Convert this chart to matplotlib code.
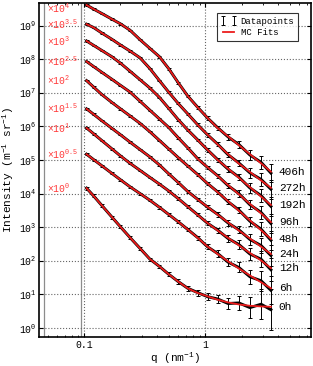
import numpy as np
import matplotlib
matplotlib.use("Agg")
import matplotlib.pyplot as plt

plt.rcParams['font.family'] = 'Liberation Mono'
plt.rcParams['mathtext.fontset'] = 'custom'
plt.rcParams['mathtext.rm'] = 'Liberation Mono'
plt.rcParams['mathtext.it'] = 'Liberation Mono:italic'
plt.rcParams['mathtext.bf'] = 'Liberation Mono:bold'

# scattering vector (nm^-1)
q = [0.105, 0.12, 0.14, 0.17, 0.2, 0.24, 0.29, 0.35, 0.42, 0.5,
     0.6, 0.72, 0.87, 1.05, 1.27, 1.55, 1.9, 2.35, 2.9, 3.5]

times = ['0h', '6h', '12h', '24h', '48h', '96h', '192h', '272h', '406h']
offsets = [0, 0.5, 1, 1.5, 2, 2.5, 3, 3.5, 4]
offset_labels = ['0', '0.5', '1', '1.5', '2', '2.5', '3', '3.5', '4']

# log10 of the MC fit intensity (unscaled, m^-1 sr^-1)
fit_0h = [4.16, 3.93, 3.65, 3.30, 3.01, 2.69, 2.37, 2.05, 1.83, 1.60,
          1.38, 1.18, 1.04, 0.94, 0.84, 0.76, 0.70, 0.66, 0.64, 0.63]
fit_6h = [4.67, 4.51, 4.33, 4.10, 3.91, 3.70, 3.50, 3.30, 3.09, 2.88,
          2.66, 2.43, 2.18, 1.92, 1.70, 1.48, 1.27, 1.06, 0.86, 0.68]
fit_12h = [4.95, 4.78, 4.58, 4.33, 4.12, 3.90, 3.69, 3.48, 3.28, 3.08,
           2.85, 2.61, 2.36, 2.12, 1.90, 1.68, 1.46, 1.23, 1.01, 0.78]
fit_24h = [5.02, 4.86, 4.67, 4.44, 4.25, 4.03, 3.81, 3.59, 3.35, 3.09,
           2.83, 2.56, 2.32, 2.10, 1.87, 1.64, 1.40, 1.16, 0.92, 0.70]
fit_48h = [5.36, 5.17, 4.95, 4.71, 4.52, 4.31, 4.09, 3.84, 3.58, 3.33,
           3.07, 2.82, 2.56, 2.30, 2.04, 1.77, 1.49, 1.20, 0.91, 0.65]
fit_96h = [5.43, 5.28, 5.11, 4.90, 4.72, 4.52, 4.25, 3.98, 3.72, 3.47,
           3.16, 2.86, 2.53, 2.28, 2.02, 1.75, 1.48, 1.19, 0.91, 0.65]
fit_192h = [5.54, 5.41, 5.26, 5.07, 4.88, 4.64, 4.39, 4.14, 3.86, 3.54,
            3.20, 2.89, 2.59, 2.30, 2.00, 1.74, 1.47, 1.19, 0.91, 0.66]
fit_272h = [5.54, 5.44, 5.28, 5.09, 4.92, 4.74, 4.54, 4.22, 3.86, 3.52,
            3.18, 2.87, 2.54, 2.25, 1.96, 1.67, 1.39, 1.14, 0.89, 0.67]
fit_406h = [5.61, 5.49, 5.36, 5.19, 5.05, 4.86, 4.58, 4.32, 4.07, 3.72,
            3.30, 2.90, 2.56, 2.25, 1.95, 1.70, 1.44, 1.17, 0.90, 0.65]
fits = [fit_0h, fit_6h, fit_12h, fit_24h, fit_48h, fit_96h,
        fit_192h, fit_272h, fit_406h]

# measured points: deviation from fit and error half-width, in decades
dev = [0, 0, 0, 0, 0, 0, 0, 0, 0, 0,
       0, 0, 0.005, -0.005, 0.01, -0.015, 0.02, -0.025, 0.03, -0.04]
err = [0.02, 0.02, 0.02, 0.02, 0.02, 0.02, 0.02, 0.02, 0.025, 0.03,
       0.03, 0.035, 0.04, 0.05, 0.06, 0.08, 0.1, 0.14, 0.2, 0.28]
noise = [2.2, 1.5, 1.2, 1.1, 1.0, 1.0, 1.0, 1.0, 1.0]

red = '#ec1c1c'

fig = plt.figure(figsize=(3.13, 3.66), dpi=100)
ax = fig.add_axes([0.1246, 0.0792, 0.8690, 0.9126])
ax.set_xscale('log')
ax.set_yscale('log')

qa = np.array(q)
h_data = None
h_fit = None
for i in range(len(times)):
    scale = 10 ** offsets[i]
    fit = 10 ** np.array(fits[i]) * scale
    data = fit * 10 ** (np.array(dev) * noise[i])
    e = np.array(err) * noise[i]
    lo = data - data * 10 ** (-e)
    hi = data * 10 ** e - data
    eb = ax.errorbar(qa, data, yerr=[lo, hi], fmt='none', ecolor='k',
                     elinewidth=0.7, capsize=1.5, capthick=0.7, zorder=3)
    ax.plot(qa, data, color='k', lw=2.1, zorder=3)
    ln, = ax.plot(qa, fit, color=red, lw=1.3, zorder=4)
    if i == 0:
        h_data, h_fit = eb, ln
    # offset factor on the left, time label on the right
    ax.text(0.0494, min(fit[0], 10 ** 9.5), r'$\times10^{%s}$' % offset_labels[i],
            color='#ff3b3b', fontsize=7, ha='left', va='center')
    ax.text(4.07, fit[-1], times[i], color='k', fontsize=8,
            ha='left', va='center')

ax.axvline(0.0467, color='0.55', lw=0.9, zorder=1)
ax.axvline(0.0945, color='0.55', lw=0.9, zorder=1)

ax.set_xlim(0.0425, 7.5)
ax.set_ylim(10 ** -0.27, 10 ** 9.67)
ax.grid(True, which='major', ls=':', color='0.4', lw=0.8)
ax.tick_params(which='both', direction='in', top=True, right=True, labelsize=7)
ax.tick_params(which='major', length=3, pad=2)
ax.tick_params(which='minor', length=1.5)
ax.set_xticks([0.1, 1])
ax.set_xticklabels(['0.1', '1'])
ax.set_yticks([10.0 ** k for k in range(10)])
for s in ax.spines.values():
    s.set_linewidth(1.2)

ax.set_xlabel(r'q (nm$^{-1}$)', fontsize=8, labelpad=1)
ax.set_ylabel(r'Intensity (m$^{-1}$ sr$^{-1}$)', fontsize=8, labelpad=2)

leg = ax.legend([h_data, h_fit], ['Datapoints', 'MC Fits'],
                loc='upper right', bbox_to_anchor=(0.952, 0.970),
                borderaxespad=0, fontsize=6.5, numpoints=2, fancybox=False,
                handlelength=1.8, borderpad=0.4, labelspacing=0.3,
                handletextpad=0.4)
leg.get_frame().set_edgecolor('k')
leg.get_frame().set_linewidth(0.8)

fig.savefig('out.png', dpi=100)
